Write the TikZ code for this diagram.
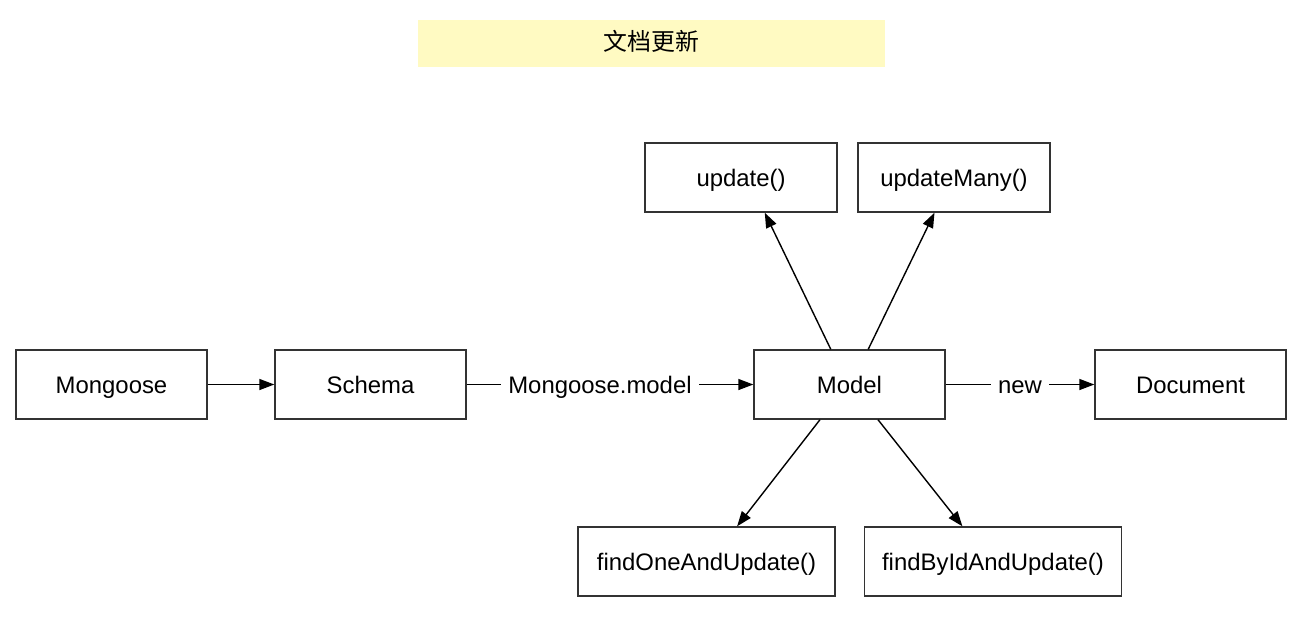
\documentclass[tikz,border=0pt]{standalone}
\usepackage{fontspec}
\setmainfont{Liberation Sans}
\newfontfamily\cjk{Noto Sans CJK SC}
\usepackage{tikz}
\usetikzlibrary{arrows.meta, positioning}
\usepackage{xcolor}
\definecolor{titlefill}{HTML}{FFFAC2}
\definecolor{edgegray}{HTML}{333333}

\begin{document}
\begin{tikzpicture}[
    x=0.02cm, y=-0.02cm,
    >={Triangle[length=0.3cm, width=0.22cm]},
    box/.style={rectangle, draw=edgegray, line width=0.8pt, minimum width=3.82cm, minimum height=1.38cm, inner sep=0pt, text height=1.1em, text depth=0.07em},
    widebox/.style={box, minimum width=5.14cm},
    lbl/.style={fill=white, inner xsep=4.3pt, inner ysep=2pt, text height=1.1em, text depth=0.07em},
    every node/.style={font=\fontsize{13.6}{16}\selectfont}
]
\useasboundingbox (0,0) rectangle (1308,626);

% Title
\node[fill=titlefill, minimum width=9.34cm, minimum height=0.94cm, inner sep=0pt, text height=0.95em, text depth=0.1em] (title) at (651.5,43.5) {\cjk 文档更新};

% Nodes
\node[box] (mongoose) at (111.5,384.5) {Mongoose};
\node[box] (schema)   at (370.5,384.5) {Schema};
\node[box] (model)    at (849.5,384.5) {Model};
\node[box] (document) at (1190.5,384.5) {Document};
\node[box, minimum width=3.84cm] (update)     at (741,177.5) {update()};
\node[box, minimum width=3.84cm] (updatemany) at (954,177.5) {updateMany()};
\node[widebox] (findone)  at (706.5,561.5) {findOneAndUpdate()};
\node[widebox] (findbyid) at (993,561.5) {findByIdAndUpdate()};

% Arrows
\begin{scope}[line width=0.8pt]
\draw[->] (mongoose) -- (schema);
\draw[->] (schema) -- node[lbl, pos=0.465] {Mongoose.model} (model);
\draw[->] (model) -- node[lbl] {new} (document);
\draw[->] (model.118) -- (update.304.8);
\draw[->] (model.62) -- (updatemany.241);
\draw[->] (model.230.4) -- (findone.49.5);
\draw[->] (model.309.6) -- (findbyid.131);
\end{scope}

\end{tikzpicture}
\end{document}
